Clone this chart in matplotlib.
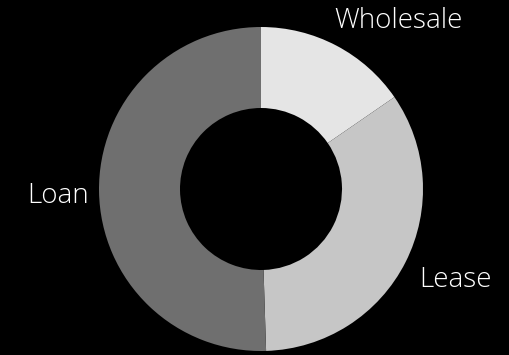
import matplotlib
matplotlib.use("Agg")
import matplotlib.pyplot as plt

categories = ["Wholesale", "Lease", "Loan"]
shares = [15.4, 34.1, 50.5]
colors = ["#e5e5e5", "#c6c6c6", "#6f6f6f"]

W, H, DPI = 510, 355, 100
fig = plt.figure(figsize=(W / DPI, H / DPI), dpi=DPI, facecolor="black")
ax = fig.add_axes([0, 0, 1, 1])
ax.set_facecolor("black")

ax.pie(shares, colors=colors, startangle=90, counterclock=False, radius=1.0,
       wedgeprops=dict(width=0.5, edgecolor="none"))

# ring radius and centre in pixels
R = 162.0
cx, cy = 261.0, 166.0
ax.set_aspect("auto")
ax.set_xlim(-cx / R, (W - cx) / R)
ax.set_ylim(-cy / R, (H - cy) / R)
ax.axis("off")

# label anchors: horizontal centre and baseline, in ring-radius units
label_pos = {"Wholesale": (0.846, 0.994), "Lease": (1.202, -0.607), "Loan": (-1.251, -0.088)}
for name in categories:
    x, y = label_pos[name]
    ax.text(x, y, name, color="white", fontsize=20, ha="center", va="baseline",
            family=["Open Sans", "DejaVu Sans"], fontweight="light")

fig.savefig("out.png", dpi=DPI, facecolor="black")
